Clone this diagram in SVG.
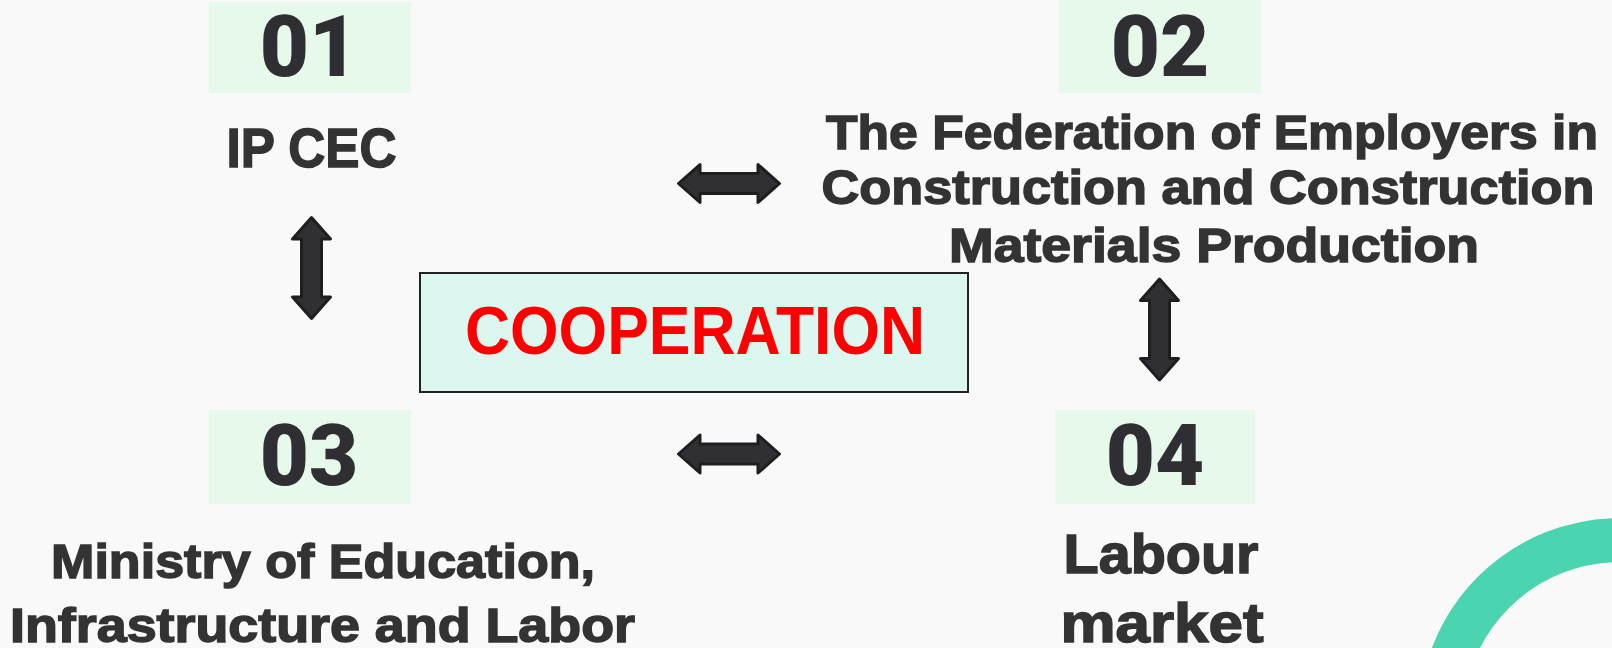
<svg xmlns="http://www.w3.org/2000/svg" width="1612" height="648" viewBox="0 0 1612 648">
<style>
.num{font-family:Roboto,"Liberation Sans",sans-serif;font-weight:900;font-size:85px;fill:#2e2e33;text-anchor:middle}
.lbl{font-family:"Liberation Sans",Arial,sans-serif;font-weight:bold;fill:#333333;stroke:#333333;stroke-width:1.5;text-anchor:middle}
.numbox{fill:#e6f9ea}
.arrow{fill:#303034;stroke:#1e1e21;stroke-width:3;stroke-linejoin:round}
</style>
<defs>
<path id="dbl" d="M -50.5,0 L -29,-19 L -29,-10 L 29,-10 L 29,-19 L 50.5,0 L 29,19 L 29,10 L -29,10 L -29,19 Z"/>
</defs>
<rect x="0" y="0" width="1612" height="648" fill="#f9f9f9"/>
<circle cx="1620" cy="719" r="179" fill="none" stroke="#4ad4b0" stroke-width="44"/>

<g id="node-01">
<rect class="numbox" x="209" y="2" width="202" height="91"/>
<text class="num" x="309" y="76">01</text>
<text class="lbl" x="311.5" y="167" font-size="56" textLength="170" lengthAdjust="spacingAndGlyphs">IP CEC</text>
</g>

<g id="node-02">
<rect class="numbox" x="1059" y="0" width="202" height="93"/>
<text class="num" x="1160" y="76">02</text>
<text class="lbl" x="1212" y="149" font-size="49" textLength="772" lengthAdjust="spacingAndGlyphs">The Federation of Employers in</text>
<text class="lbl" x="1208" y="204" font-size="49" textLength="773" lengthAdjust="spacingAndGlyphs">Construction and Construction</text>
<text class="lbl" x="1214" y="262" font-size="49" textLength="530" lengthAdjust="spacingAndGlyphs">Materials Production</text>
</g>

<g id="node-03">
<rect class="numbox" x="209" y="410" width="202" height="94"/>
<text class="num" x="309" y="485">03</text>
<text class="lbl" x="323" y="578" font-size="49" textLength="544" lengthAdjust="spacingAndGlyphs">Ministry of Education,</text>
<text class="lbl" x="322.5" y="642" font-size="49" textLength="625" lengthAdjust="spacingAndGlyphs">Infrastructure and Labor</text>
</g>

<g id="node-04">
<rect class="numbox" x="1055" y="410" width="200" height="94"/>
<text class="num" x="1155" y="485">04</text>
<text class="lbl" x="1161" y="573" font-size="56" textLength="195" lengthAdjust="spacingAndGlyphs">Labour</text>
<text class="lbl" x="1162" y="642" font-size="56" textLength="203" lengthAdjust="spacingAndGlyphs">market</text>
</g>

<g id="center">
<rect x="420" y="273" width="548" height="119" fill="#dcf7ef" stroke="#222222" stroke-width="2"/>
<text x="695" y="354" font-family="'Liberation Sans',Arial,sans-serif" font-weight="bold" font-size="68" fill="#ff0000" text-anchor="middle" textLength="460" lengthAdjust="spacingAndGlyphs">COOPERATION</text>
</g>

<g id="connectors">
<use href="#dbl" class="arrow" transform="translate(729,183.5)"/>
<use href="#dbl" class="arrow" transform="translate(729,454)"/>
<use href="#dbl" class="arrow" transform="translate(311.5,268) rotate(90)"/>
<use href="#dbl" class="arrow" transform="translate(1159.5,329.5) rotate(90)"/>
</g>
</svg>
